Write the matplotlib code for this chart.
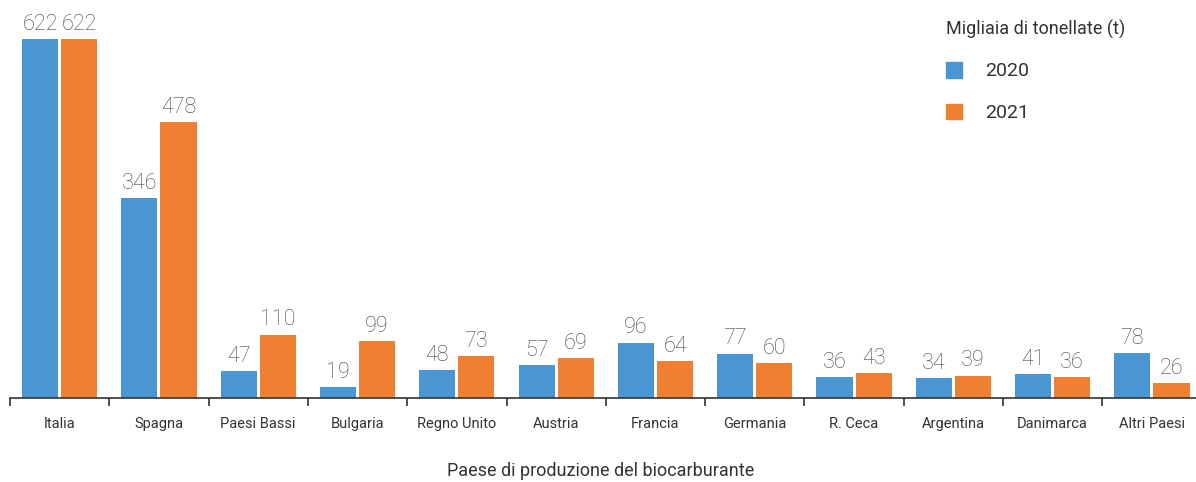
import numpy as np
import matplotlib
matplotlib.use('Agg')
import matplotlib.pyplot as plt
from matplotlib.patches import Patch

# ── Data ──────────────────────────────────────────────────────────────────────
paesi = ['Italia', 'Spagna', 'Paesi Bassi', 'Bulgaria', 'Regno Unito', 'Austria',
         'Francia', 'Germania', 'R. Ceca', 'Argentina', 'Danimarca', 'Altri Paesi']
val_2020 = [622, 346, 47, 19, 48, 57, 96, 77, 36, 34, 41, 78]
val_2021 = [622, 478, 110, 99, 73, 69, 64, 60, 43, 39, 36, 26]

BLUE = '#4a96d3'
ORANGE = '#ef7f31'
TXT = '#333333'
NUM = '#444444'

plt.rcParams['font.family'] = ['Roboto', 'DejaVu Sans']

W, H = 1196, 482
fig = plt.figure(figsize=(W / 100, H / 100), dpi=100)
# axes: left edge at x=10, baseline at y=398, category width ~99.3 px
left, base, cw = 10, 398, 99.3
ax = fig.add_axes([left / W, (H - base) / H, 12 * cw / W, base / H])

x = np.arange(len(paesi))
bw = 0.364
off = 0.197
b1 = ax.bar(x - off, val_2020, bw, color=BLUE, label='2020')
b2 = ax.bar(x + off, val_2021, bw, color=ORANGE, label='2021')

for bars, vals in ((b1, val_2020), (b2, val_2021)):
    for r, v in zip(bars, vals):
        ax.annotate(str(v), (r.get_x() + r.get_width() / 2, v),
                    xytext=(0, 3), textcoords='offset points',
                    ha='center', va='bottom', fontsize=15.5,
                    fontweight='light', color=NUM)

ax.set_xlim(-0.5, len(paesi) - 0.5)
ax.set_ylim(0, 690)

for s in ('top', 'right', 'left'):
    ax.spines[s].set_visible(False)
ax.spines['bottom'].set_color('#333333')
ax.spines['bottom'].set_linewidth(1.2)
ax.set_yticks([])

ax.set_xticks(x)
ax.set_xticklabels(paesi, fontsize=10.5, color=TXT)
ax.tick_params(axis='x', which='major', length=0, pad=14)
ax.set_xticks(np.arange(len(paesi) + 1) - 0.5, minor=True)
ax.tick_params(axis='x', which='minor', length=6, width=1.2, color='#333333')

ax.set_xlabel('Paese di produzione del biocarburante', fontsize=13, color=TXT)
ax.xaxis.set_label_coords(591 / (12 * cw), -73 / base)
ax.xaxis.label.set_verticalalignment('center')

handles = [Patch(color=BLUE, label='2020'), Patch(color=ORANGE, label='2021')]
leg = fig.legend(handles=handles, title='Migliaia di tonellate (t)',
                 loc='upper left', bbox_to_anchor=(928 / W, 1 - 2 / H),
                 frameon=False, fontsize=14, title_fontsize=13,
                 handlelength=0.85, handleheight=0.85, handletextpad=1.2,
                 labelspacing=1.2, alignment='left')
leg.get_title().set_color(TXT)
for t in leg.get_texts():
    t.set_color(TXT)

fig.savefig('out.png', dpi=100)
